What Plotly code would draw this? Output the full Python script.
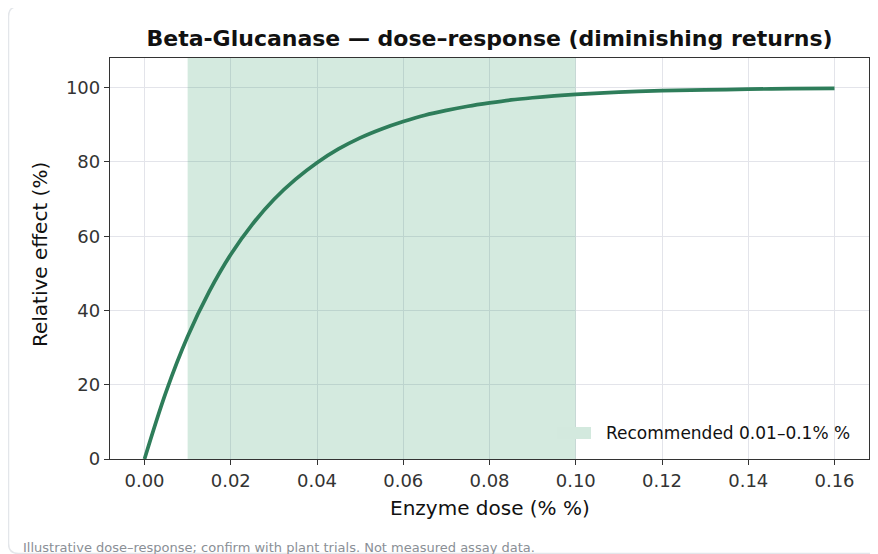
import plotly.graph_objects as go

# ---- data ----
dose = [0.0, 0.005, 0.01, 0.015, 0.02, 0.025, 0.03, 0.035, 0.04, 0.045, 0.05,
        0.055, 0.06, 0.065, 0.07, 0.075, 0.08, 0.085, 0.09, 0.095, 0.1,
        0.11, 0.12, 0.13, 0.14, 0.15, 0.16]
effect = [0, 18.1, 33.0, 45.1, 55.1, 63.2, 69.9, 75.3, 79.8, 83.5, 86.5,
          88.9, 90.9, 92.6, 93.9, 95.0, 95.9, 96.7, 97.3, 97.8, 98.2,
          98.8, 99.2, 99.4, 99.6, 99.75, 99.8]
band_x = [0.01, 0.1]
band_label = "Recommended 0.01–0.1% %"
x_ticks = [0.0, 0.02, 0.04, 0.06, 0.08, 0.10, 0.12, 0.14, 0.16]
y_ticks = [0, 20, 40, 60, 80, 100]
y_top = 108

# screenshot geometry (page body has an 8px margin)
SW, SH, OFF = 878, 554, 8
W, H = SW - OFF, SH - OFF
L, R, T, B = 110, 869, 58, 459
pw, ph = R - L, B - T


def px(x):
    return (x - L) / pw


def py(y):
    return (B - y) / ph


FONT = "DejaVu Sans"
LINE = "#2e7d5a"
BAND = "rgba(40,150,95,0.2)"
PATCH = "rgb(211,233,222)"

fig = go.Figure()

fig.add_trace(go.Scatter(
    x=[band_x[0], band_x[0], band_x[1], band_x[1], band_x[0]],
    y=[0, y_top, y_top, 0, 0],
    fill="toself", fillcolor=BAND,
    line=dict(width=0), mode="lines", name=band_label,
    hoverinfo="skip", showlegend=False,
))

fig.add_trace(go.Scatter(
    x=dose, y=effect, mode="lines",
    line=dict(color=LINE, width=3.7, shape="spline", smoothing=1.0),
    showlegend=False, name="effect",
))

# card border with rounded corners
cl, ct, cr, cb, rad = 8.5, 6.5, 900, 553.5, 10
path = (
    f"M {px(cl)},{py(ct + rad)} "
    f"L {px(cl)},{py(cb - rad)} "
    f"Q {px(cl)},{py(cb)} {px(cl + rad)},{py(cb)} "
    f"L {px(cr)},{py(cb)} "
    f"M {px(cl)},{py(ct + rad)} "
    f"Q {px(cl)},{py(ct)} {px(cl + rad)},{py(ct)} "
    f"L {px(cr)},{py(ct)}"
)
fig.add_shape(type="path", path=path, xref="paper", yref="paper",
              line=dict(color="#e3e6ea", width=1.5), layer="below")

# legend patch (drawn manually to match the reference legend)
fig.add_shape(type="rect", xref="paper", yref="paper",
              x0=px(557), x1=px(591), y0=py(439), y1=py(427),
              fillcolor=PATCH, line=dict(width=0), layer="above")

axis_common = dict(
    showgrid=True, gridcolor="#e3e4ea", gridwidth=1,
    zeroline=False, showline=True, mirror=True,
    linecolor="#333", linewidth=1.3,
    ticks="outside", ticklen=5, tickwidth=1.2, tickcolor="#333",
    tickfont=dict(size=18, color="#333", family=FONT),
)

fig.update_layout(
    width=W, height=H,
    margin=dict(l=L - OFF, r=SW - R, t=T - OFF, b=SH - B, autoexpand=False),
    paper_bgcolor="white", plot_bgcolor="white",
    font=dict(family=FONT, color="#222"),
    title=dict(text="<b>Beta-Glucanase — dose–response (diminishing returns)</b>",
               x=0.5, xref="paper", xanchor="center",
               y=1 - (38 - OFF) / H, yref="container", yanchor="middle",
               font=dict(size=22, color="#111", family=FONT)),
    xaxis=dict(range=[-0.008, 0.168], tickvals=x_ticks, tickformat=".2f", **axis_common),
    yaxis=dict(range=[0, y_top], tickvals=y_ticks, **axis_common),
    showlegend=False,
    annotations=[
        dict(text=band_label, xref="paper", yref="paper",
             x=px(604), y=py(433), xanchor="left", yanchor="middle",
             showarrow=False, font=dict(size=17, color="#111", family=FONT)),
        dict(text="Enzyme dose (% %)", xref="paper", yref="paper",
             x=0.5, y=py(508), xanchor="center", yanchor="middle",
             showarrow=False, font=dict(size=20, color="#111", family=FONT)),
        dict(text="Relative effect (%)", xref="paper", yref="paper",
             x=px(40), y=py(255), xanchor="center", yanchor="middle", textangle=-90,
             showarrow=False, font=dict(size=20, color="#111", family=FONT)),
        dict(text="Illustrative dose–response; confirm with plant trials. Not measured assay data.",
             xref="paper", yref="paper", x=px(21), y=py(547),
             xanchor="left", yanchor="middle", showarrow=False,
             font=dict(size=13, color="#8a8f96", family=FONT)),
    ],
)

fig.write_html("out.html")
